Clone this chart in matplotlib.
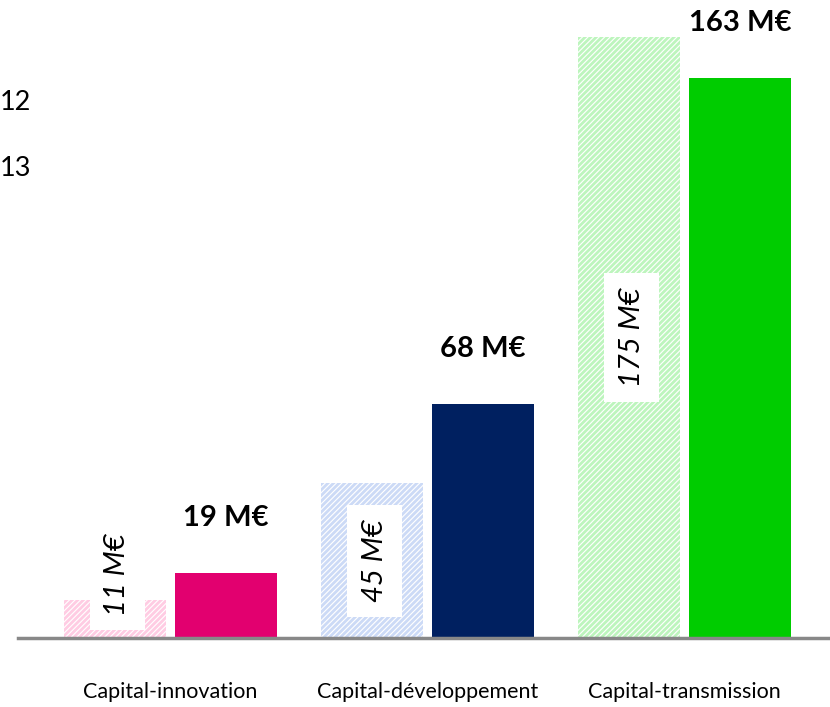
import matplotlib
matplotlib.use("Agg")
import matplotlib.pyplot as plt
import numpy as np

categories = ["Capital-innovation", "Capital-développement", "Capital-transmission"]
prev_values = [11, 45, 175]
curr_values = [19, 68, 163]
prev_labels = ["11 M€", "45 M€", "175 M€"]
curr_labels = ["19 M€", "68 M€", "163 M€"]
legend_texts = ["12", "13"]

solid_colors = ["#E2006F", "#002060", "#00CC00"]
hatch_colors = ["#FFCCE3", "#CCDAF6", "#BDF5BD"]

plt.rcParams['font.family'] = ['Lato', 'DejaVu Sans']
plt.rcParams['hatch.linewidth'] = 2.0

fig = plt.figure(figsize=(8.30, 7.07), dpi=100)
ax = fig.add_axes([18/830, 69/707, 812/830, 638/707])

x = np.arange(len(categories))
w = 0.397
off = 0.216

for i in range(len(categories)):
    ax.bar(x[i] - off, prev_values[i], width=w, facecolor="white",
           edgecolor=hatch_colors[i], linewidth=0, hatch="//////", zorder=2)
    ax.bar(x[i] + off, curr_values[i], width=w, color=solid_colors[i],
           linewidth=0, zorder=2)
    ly = max(prev_values[i] / 2, 18.5)
    ax.text(x[i] - off + 0.01, ly, prev_labels[i], rotation=90, style='italic',
            fontsize=21, ha='center', va='center', zorder=3,
            bbox=dict(boxstyle='square,pad=0.5', facecolor='white', edgecolor='none'))
    ax.text(x[i] + off, curr_values[i] + 16, curr_labels[i], fontweight='bold',
            fontsize=21, ha='center', va='center', zorder=3)

ax.set_xlim(-0.593, 2.566)
ax.set_ylim(0, 185.7)
for s in ['top', 'right', 'left']:
    ax.spines[s].set_visible(False)
ax.spines['bottom'].set_color('#888888')
ax.spines['bottom'].set_linewidth(2.5)
ax.set_yticks([])
ax.set_xticks(x)
ax.set_xticklabels(categories, fontsize=15.5)
ax.tick_params(axis='x', length=0, pad=32)

fig.text(0, 1 - 102/707, legend_texts[0], fontsize=19.5, ha='left', va='center')
fig.text(0, 1 - 168/707, legend_texts[1], fontsize=19.5, ha='left', va='center')

fig.savefig("out.png", dpi=100)
